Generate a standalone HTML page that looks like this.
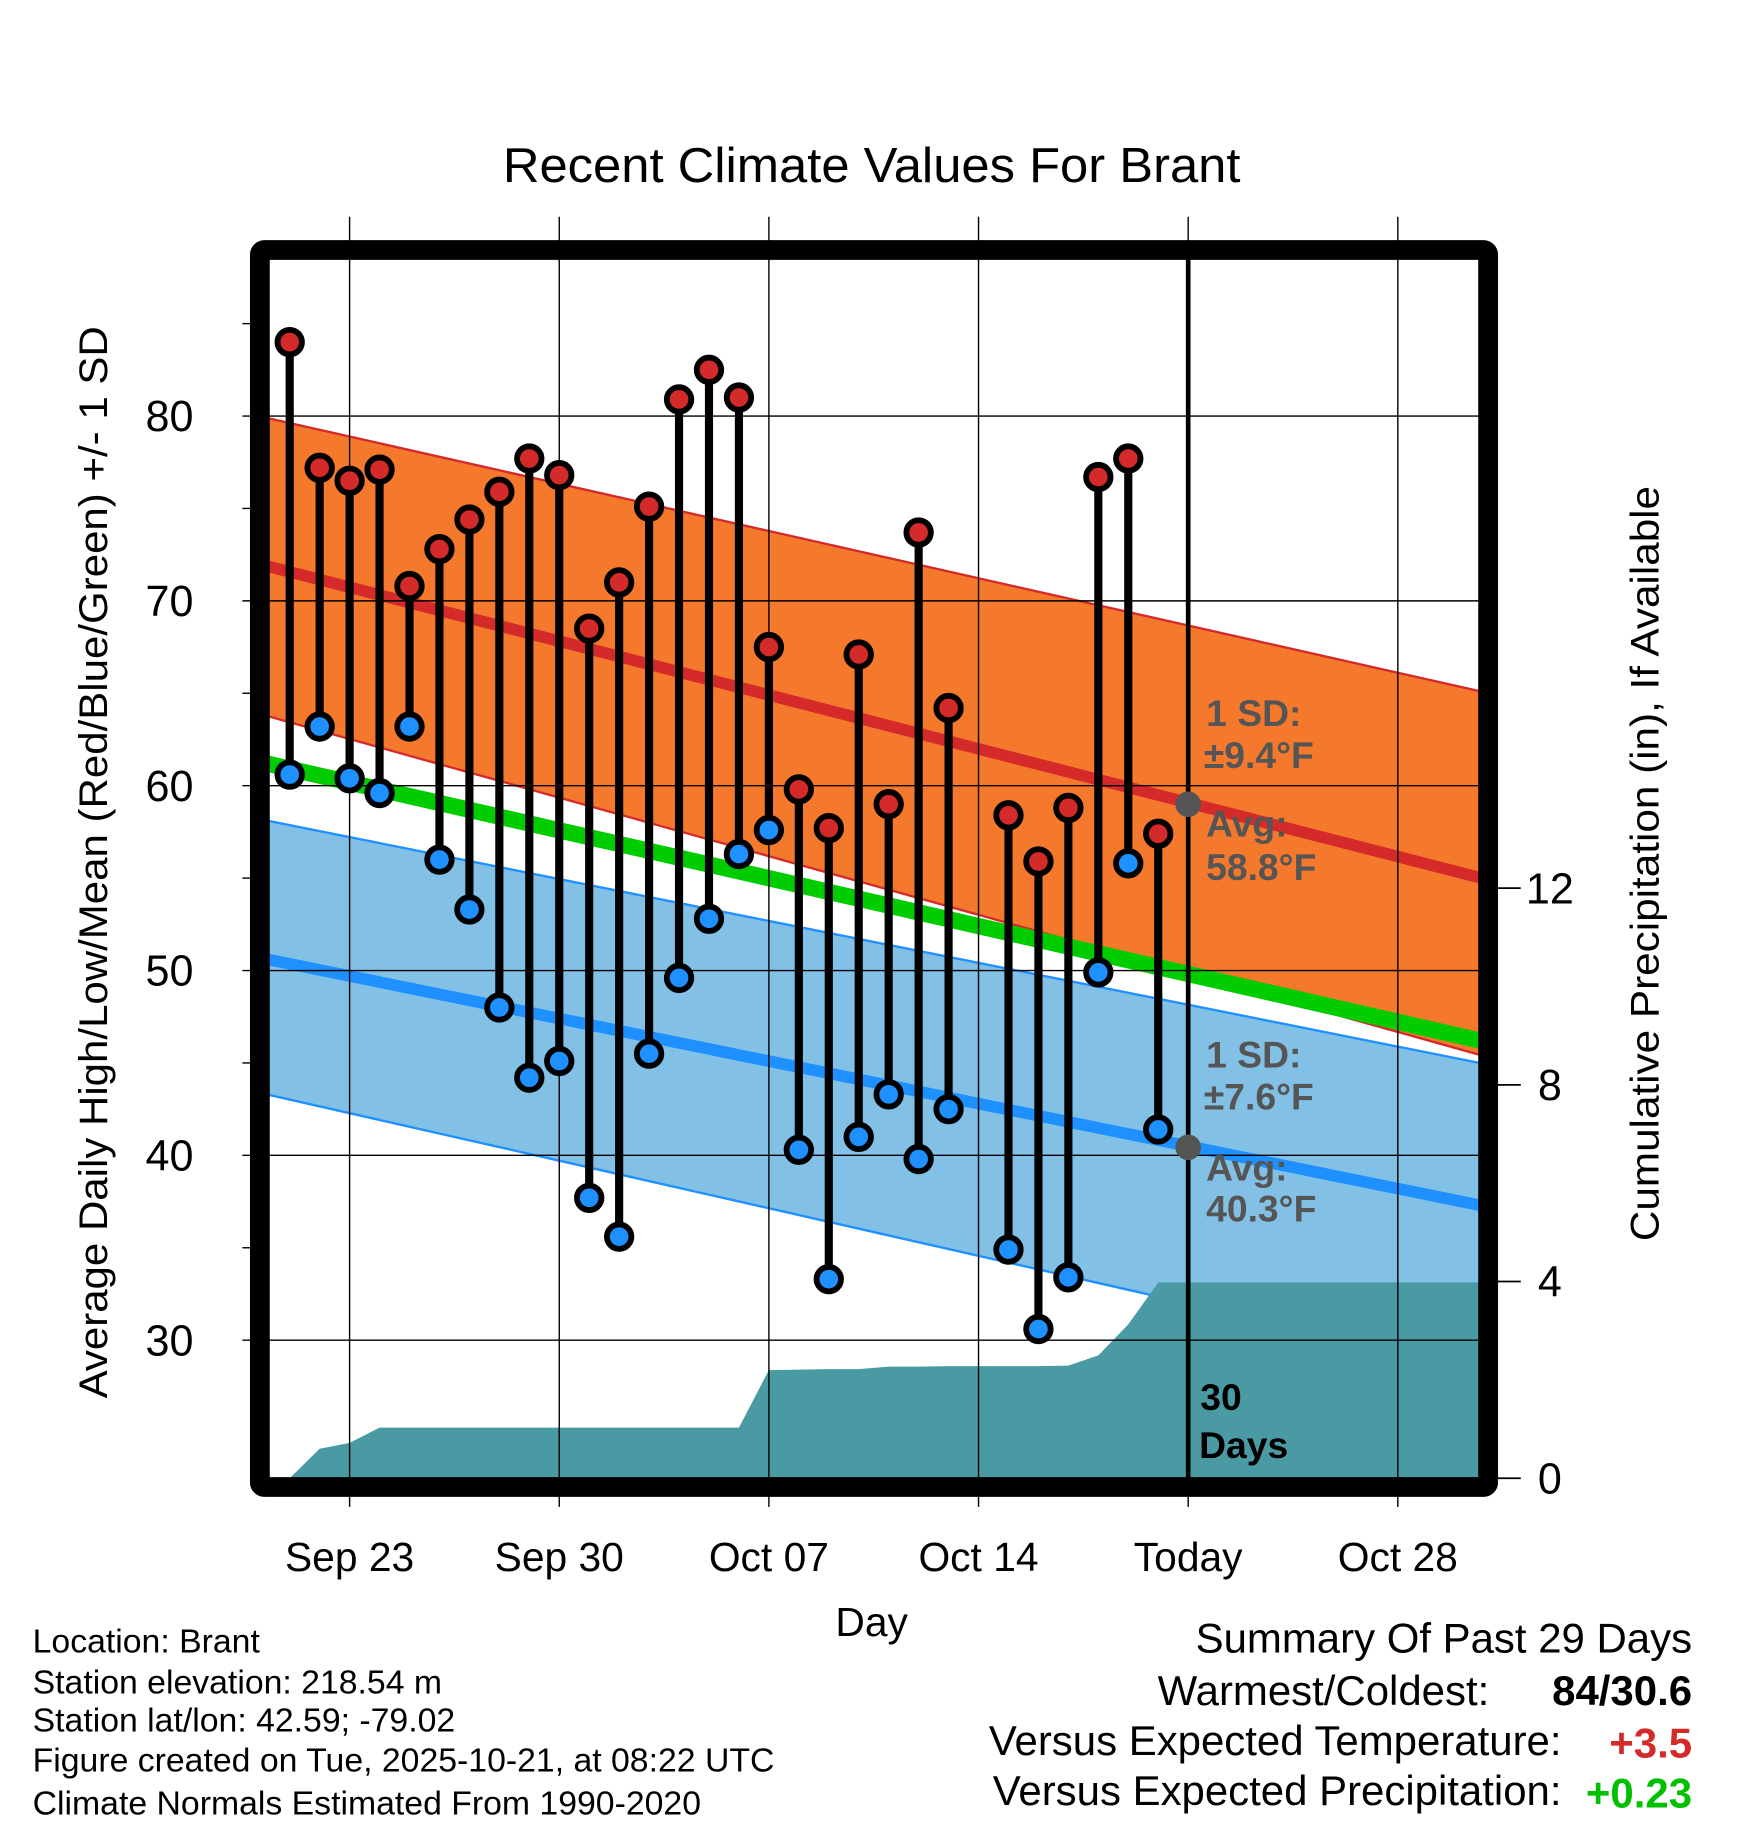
<!DOCTYPE html>
<html><head><meta charset="utf-8"><style>
html,body{margin:0;padding:0;background:#fff;}
svg{display:block;font-family:"Liberation Sans",Arial,sans-serif;}
</style></head><body>
<svg id="chart" width="1748" height="1828" viewBox="0 0 1500 1568.6" preserveAspectRatio="none" xmlns="http://www.w3.org/2000/svg">
<rect x="0" y="0" width="1500" height="1569" fill="#fff"/>
<g id="layers"></g>
</svg>
<script>
// ---- data ----
const dayLabels = ["Sep 23","Sep 30","Oct 07","Oct 14","Today","Oct 28"];
const labelDays = [0,7,14,21,28,35];
const obsDays = [-2,-1,0,1,2,3,4,5,6,7,8,9,10,11,12,13,14,15,16,17,18,19,20,22,23,24,25,26,27];
const highs = [84.0,77.2,76.5,77.1,70.8,72.8,74.4,75.9,77.7,76.8,68.5,71.0,75.1,80.9,82.5,81.0,67.5,59.8,57.7,67.1,59.0,73.7,64.2,58.4,55.9,58.8,76.7,77.7,57.4];
const lows = [60.6,63.2,60.4,59.6,63.2,56.0,53.3,48.0,44.2,45.1,37.7,35.6,45.5,49.6,52.8,56.3,57.6,40.3,33.3,41.0,43.3,39.8,42.5,34.9,30.6,33.4,49.9,55.8,41.4];
const normDays = [-2.65,37.65];
const normHighTop = [80.0,65.0];
const normHighMean = [72.0,54.9];
const normHighBot = [63.9,45.3];
const normMean = [61.3,46.1];
const normLowTop = [58.2,44.9];
const normLowMean = [50.7,37.2];
const normLowBot = [43.4,28.3];
const precipDays = [-2,-1,0,1,2,3,4,5,6,7,8,9,10,11,12,13,14,15,16,17,18,19,20,21,22,23,24,25,26,27,28,38];
const precipVals = [0.0,0.6,0.72,1.03,1.03,1.03,1.03,1.03,1.03,1.03,1.03,1.03,1.03,1.03,1.03,1.03,2.2,2.21,2.22,2.22,2.27,2.27,2.28,2.28,2.28,2.28,2.29,2.5,3.13,3.98,3.98,3.98];
const yTicks = [30,40,50,60,70,80];
const pTicks = [0,4,8,12];

// ---- axes ----
const X0=226, X1=1276, Y0=218, Y1=1272;
function xs(d){return 300+d*25.7;}
function ys(v){return 357+(80-v)*15.86;}
function ps(v){return 1268.5-v*42.2;}

const NS="http://www.w3.org/2000/svg";
const root=document.getElementById('layers');
function mk(tag,attrs,parent){const e=document.createElementNS(NS,tag);for(const k in attrs)e.setAttribute(k,attrs[k]);(parent||root).appendChild(e);return e;}
function txt(s,attrs,parent){const e=mk('text',attrs,parent);e.textContent=s;return e;}

const clip=mk('clipPath',{id:'pc'});mk('rect',{x:X0,y:Y0,width:X1-X0,height:Y1-Y0},clip);
const plot=mk('g',{'clip-path':'url(#pc)'});



function band(top,bot,fill,stroke,name){
  const d=`M${xs(normDays[0])-10},${ys(top[0])} L${xs(normDays[1])+10},${ys(top[1])} L${xs(normDays[1])+10},${ys(bot[1])} L${xs(normDays[0])-10},${ys(bot[0])} Z`;
  const p=mk('path',{d:d,fill:fill,stroke:stroke,'stroke-width':2},plot);
  
  
}
function line(vals,color,w,name){
  const l=mk('line',{x1:xs(normDays[0])-10,y1:ys(vals[0]),x2:xs(normDays[1])+10,y2:ys(vals[1]),stroke:color,'stroke-width':w},plot);
  
  
}
band(normHighTop,normHighBot,'#f5792c','#d42a2a','high-sd-band');
band(normLowTop,normLowBot,'#82c0e6','#1e90ff','low-sd-band');
line(normMean,'#00cc00',14,'mean-normal-line');
line(normHighMean,'#d42a2a',10,'high-normal-line');
line(normLowMean,'#1e90ff',10,'low-normal-line');

// precip
let pd=`M${xs(precipDays[0])},${ps(-1)}`;
precipDays.forEach((d,i)=>{pd+=` L${xs(d)},${ps(precipVals[i])}`;});
pd+=` L${xs(precipDays[precipDays.length-1])},${ps(-1)} Z`;
const pa=mk('path',{d:pd,fill:'#4a9aa3'},plot);



// grid
yTicks.forEach(v=>{
  const g=mk('line',{x1:208,y1:ys(v),x2:1270,y2:ys(v),stroke:'#000','stroke-width':1.2});
  
  
  const t=txt(String(v),{x:166,y:ys(v)+13,'font-size':37,'text-anchor':'end'});
  
  
});
[35,45,55,65,75,85].forEach(v=>{mk('line',{x1:208,y1:ys(v),x2:216,y2:ys(v),stroke:'#000','stroke-width':1.2});});
labelDays.forEach((d,i)=>{
  const g=mk('line',{x1:xs(d),y1:186,x2:xs(d),y2:1293,stroke:'#000','stroke-width':1.2});
  
  
  const t=txt(dayLabels[i],{x:xs(d),y:1348,'font-size':35,'text-anchor':'middle'});
  
  
});
pTicks.forEach(v=>{
  mk('line',{x1:1280,y1:ps(v),x2:1305,y2:ps(v),stroke:'#000','stroke-width':1.5});
  const t=txt(String(v),{x:1330,y:ps(v)+13,'font-size':37,'text-anchor':'middle'});
  
  
});

// today line
const tl=mk('line',{x1:xs(28),y1:Y0,x2:xs(28),y2:Y1,stroke:'#000','stroke-width':4});


[normHighMean,normLowMean].forEach(arr=>{
  const v=arr[0]+(arr[1]-arr[0])*(28-normDays[0])/(normDays[1]-normDays[0]);
  const c=mk('circle',{cx:xs(28),cy:ys(v),r:11,fill:'#555'});
  
  
});

// stems and markers
obsDays.forEach((d,i)=>{
  const s=mk('line',{x1:xs(d),y1:ys(highs[i]),x2:xs(d),y2:ys(lows[i]),stroke:'#000','stroke-width':7});
  
  
});
obsDays.forEach((d,i)=>{
  const h=mk('circle',{cx:xs(d),cy:ys(highs[i]),r:10.5,fill:'#d42a2a',stroke:'#000','stroke-width':5});
  
  
  const l=mk('circle',{cx:xs(d),cy:ys(lows[i]),r:10.5,fill:'#1e90ff',stroke:'#000','stroke-width':5});
  
  
});

// annotations
function ann(s,x,y,fill,name){const t=txt(s,{x:x,y:y,'font-size':32,'font-weight':'bold',fill:fill});}
ann('1 SD:',1035,623,'#555','high-sd-label');
ann('±9.4°F',1033,659,'#555','high-sd-value');
ann('Avg:',1035,718,'#555','high-avg-label');
ann('58.8°F',1035,755,'#555','high-avg-value');
ann('1 SD:',1035,916,'#555','low-sd-label');
ann('±7.6°F',1033,952,'#555','low-sd-value');
ann('Avg:',1035,1013,'#555','low-avg-label');
ann('40.3°F',1035,1048,'#555','low-avg-value');
ann('30',1030,1210,'#000','days-count');
ann('Days',1029,1251,'#000','days-label');

// frame
const fr=mk('rect',{x:223,y:214.5,width:1054,height:1061.5,rx:4,fill:'none',stroke:'#000','stroke-width':17});



// titles
function T(s,attrs,name){const t=txt(s,attrs);return t;}
T('Recent Climate Values For Brant',{x:748,y:156,'font-size':42,'text-anchor':'middle',textLength:633,lengthAdjust:'spacingAndGlyphs'},'chart-title');
T('Day',{x:748,y:1404,'font-size':35,'text-anchor':'middle'},'x-axis-title');
T('Average Daily High/Low/Mean (Red/Blue/Green) +/- 1 SD',{x:0,y:0,'font-size':34,'text-anchor':'middle',textLength:920,lengthAdjust:'spacingAndGlyphs',transform:'translate(92,740) rotate(-90)'},'y-axis-title');
T('Cumulative Precipitation (in), If Available',{x:0,y:0,'font-size':34,'text-anchor':'middle',textLength:648,lengthAdjust:'spacingAndGlyphs',transform:'translate(1423,741) rotate(-90)'},'precip-axis-title');

const left=['Location: Brant','Station elevation: 218.54 m','Station lat/lon: 42.59; -79.02','Figure created on Tue, 2025-10-21, at 08:22 UTC','Climate Normals Estimated From 1990-2020'];
const ly=[1418,1453,1486,1520,1557];
left.forEach((s,i)=>T(s,{x:28,y:ly[i],'font-size':29},'footer-info-line'));

T('Summary Of Past 29 Days',{x:1452,y:1418,'font-size':36,'text-anchor':'end'},'summary-title');
T('Warmest/Coldest:',{x:1278,y:1463,'font-size':36,'text-anchor':'end'},'warmest-coldest-label');
T('84/30.6',{x:1452,y:1463,'font-size':36,'font-weight':'bold','text-anchor':'end'},'warmest-coldest-value');
T('Versus Expected Temperature:',{x:1340,y:1506,'font-size':36,'text-anchor':'end'},'temp-departure-label');
T('+3.5',{x:1452,y:1508,'font-size':36,'font-weight':'bold','text-anchor':'end',fill:'#d42a2a'},'temp-departure-value');
T('Versus Expected Precipitation:',{x:1340,y:1549,'font-size':36,'text-anchor':'end'},'precip-departure-label');
T('+0.23',{x:1452,y:1551,'font-size':36,'font-weight':'bold','text-anchor':'end',fill:'#00c000'},'precip-departure-value');
</script>
</body></html>
